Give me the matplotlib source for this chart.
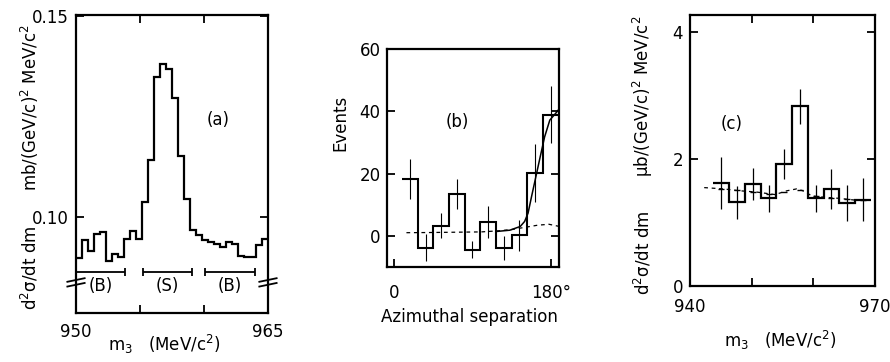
import matplotlib.pyplot as plt
import numpy as np

# ---- panel (a): d2sigma/dt dm vs m3, 32 bins 950-965 MeV
a_edges = np.linspace(950, 965, 33)
a_vals = [0.0898, 0.0942, 0.0915, 0.0958, 0.0962, 0.0892, 0.0909, 0.0901,
          0.0945, 0.0966, 0.0945, 0.1038, 0.1142, 0.1348, 0.1381, 0.1368,
          0.1295, 0.1152, 0.1046, 0.0969, 0.0956, 0.0944, 0.0938, 0.0933,
          0.0927, 0.0938, 0.0933, 0.0904, 0.0900, 0.0902, 0.0931, 0.0945]
band_lo = [950.0, 955.2, 960.1]
band_hi = [953.8, 959.1, 964.0]
band_names = ['(B)', '(S)', '(B)']

# ---- panel (b): events vs azimuthal separation, 18 deg bins
b_centers = [18, 36, 54, 72, 90, 108, 126, 144, 162, 180]
b_vals = [18.2, -3.7, 3.4, 13.5, -4.3, 4.5, -3.9, 0.2, 20.2, 39.0]
b_err = [6.4, 4.3, 4.0, 4.7, 2.8, 5.0, 3.9, 5.1, 9.2, 9.0]
b_bg_x = [14, 40, 70, 100, 120, 135, 150, 165, 178, 190]
b_bg_y = [1.1, 1.15, 1.25, 1.35, 1.7, 2.1, 2.8, 3.5, 3.8, 3.1]
b_fit_x = [118, 133, 145, 150, 154, 158, 163, 168, 173, 179, 187, 190]
b_fit_y = [1.5, 1.9, 3.1, 4.7, 7.4, 12.7, 19.1, 25.5, 31.8, 37.2, 39.8, 40.9]

# ---- panel (c): mub/(GeV/c)^2 MeV/c^2 vs m3, 10 bins
c_edges = np.linspace(943.8, 969.3, 11)
c_vals = [1.62, 1.32, 1.61, 1.38, 1.92, 2.83, 1.38, 1.53, 1.31, 1.36]
c_err = [0.41, 0.26, 0.25, 0.21, 0.24, 0.28, 0.21, 0.31, 0.28, 0.34]
c_bg_x = [942.3, 945.4, 948.1, 950.8, 953.8, 955.7, 957.3, 958.6, 959.7,
          961.6, 964.3, 967.0, 969.2]
c_bg_y = [1.55, 1.53, 1.50, 1.48, 1.44, 1.50, 1.53, 1.49, 1.42,
          1.40, 1.38, 1.35, 1.35]

plt.rcParams['font.family'] = 'DejaVu Sans'
plt.rcParams['mathtext.default'] = 'regular'
fs = 12
lw_ax = 1.6

fig = plt.figure(figsize=(8.9, 3.62), dpi=100)
fig.patch.set_facecolor('white')

ax_a = fig.add_axes([0.0854, 0.1354, 0.2157, 0.8232])
ax_b = fig.add_axes([0.4352, 0.2616, 0.1933, 0.6030])
ax_c = fig.add_axes([0.7753, 0.2100, 0.2079, 0.7486])

for ax in (ax_a, ax_b, ax_c):
    for s in ax.spines.values():
        s.set_linewidth(lw_ax)
    ax.tick_params(direction='in', length=6, width=1.3, labelsize=fs,
                   top=True, right=True)

# ---------------- (a)
ax_a.stairs(a_vals, a_edges, baseline=None, color='black', lw=1.6)
ax_a.set_xlim(950, 965)
ax_a.set_ylim(0.0762, 0.1502)
ax_a.set_xticks([950, 955, 960, 965])
ax_a.set_xticklabels(['950', '', '', '965'])
ax_a.set_yticks([0.10, 0.15])
ax_a.set_yticklabels(['0.10', '0.15'])
ax_a.tick_params(axis='x', pad=7)
ax_a.tick_params(axis='y', pad=5)

band_y = 0.0865
mid = [(lo + hi) / 2 for lo, hi in zip(band_lo, band_hi)]
half = [(hi - lo) / 2 for lo, hi in zip(band_lo, band_hi)]
ax_a.errorbar(mid, [band_y] * 3, xerr=half, fmt='none', ecolor='black',
              elinewidth=1.3, capsize=3, capthick=1.3, clip_on=False)
for m, name in zip(mid, band_names):
    ax_a.text(m, 0.0829, name, ha='center', va='center', fontsize=fs)

# axis break marks
yb = (0.0838 - 0.0762) / (0.1502 - 0.0762)
for xb in (0.0, 1.0):
    for dy in (-0.008, 0.008):
        ax_a.plot([xb - 0.045, xb + 0.045], [yb + dy - 0.006, yb + dy + 0.006],
                  transform=ax_a.transAxes, color='black', lw=1.3,
                  clip_on=False)

ax_a.text(961.1, 0.1242, '(a)', ha='center', va='center', fontsize=fs)
ax_a.text(-0.24, 0.151, r'$d^2\sigma$/dt dm', transform=ax_a.transAxes,
          rotation=90, ha='center', va='center', fontsize=fs)
ax_a.text(-0.24, 0.69, r'mb/(GeV/c)$^2$ MeV/c$^2$', transform=ax_a.transAxes,
          rotation=90, ha='center', va='center', fontsize=fs)
ax_a.text(0.46, -0.107, r'm$_3$   (MeV/c$^2$)', transform=ax_a.transAxes,
          ha='center', va='center', fontsize=fs)

# ---------------- (b)
b_edges = [c - 9 for c in b_centers] + [b_centers[-1] + 9]
ax_b.stairs(b_vals, b_edges, baseline=None, color='black', lw=1.5)
ax_b.errorbar(b_centers, b_vals, yerr=b_err, fmt='none', ecolor='black',
              elinewidth=0.8)
ax_b.plot(b_bg_x, b_bg_y, color='black', lw=0.9, ls=(0, (3, 3)))
ax_b.plot(b_fit_x, b_fit_y, color='black', lw=1.1)
ax_b.set_xlim(-8, 190)
ax_b.set_ylim(-10, 60)
ax_b.set_xticks([0, 180])
ax_b.set_xticklabels(['0', '180°'])
ax_b.set_yticks([0, 20, 40, 60])
ax_b.tick_params(axis='x', pad=12, top=False)
ax_b.tick_params(axis='y', pad=5)
ax_b.text(72, 36.6, '(b)', ha='center', va='center', fontsize=fs)
ax_b.text(-0.275, 0.661, 'Events', transform=ax_b.transAxes, rotation=90,
          ha='center', va='center', fontsize=fs)
ax_b.text(0.48, -0.228, 'Azimuthal separation', transform=ax_b.transAxes,
          ha='center', va='center', fontsize=fs)

# ---------------- (c)
c_centers = (c_edges[:-1] + c_edges[1:]) / 2
ax_c.stairs(c_vals, c_edges, baseline=None, color='black', lw=1.6)
ax_c.errorbar(c_centers, c_vals, yerr=c_err, fmt='none', ecolor='black',
              elinewidth=0.9)
ax_c.plot(c_bg_x, c_bg_y, color='black', lw=0.9, ls=(0, (3, 3)))
ax_c.plot(c_centers, np.interp(c_centers, c_bg_x, c_bg_y), ls='none',
          marker='_', ms=5, mew=1.0, color='black')
ax_c.set_xlim(940, 970)
ax_c.set_ylim(0, 4.27)
ax_c.set_xticks([940, 950, 960, 970])
ax_c.set_xticklabels(['940', '', '', '970'])
ax_c.set_yticks([0, 2, 4])
ax_c.tick_params(axis='x', pad=9)
ax_c.tick_params(axis='y', pad=5)
ax_c.text(946.8, 2.56, '(c)', ha='center', va='center', fontsize=fs)
ax_c.text(-0.254, 0.122, r'$d^2\sigma$/dt dm', transform=ax_c.transAxes,
          rotation=90, ha='center', va='center', fontsize=fs)
ax_c.text(-0.254, 0.70, r'μb/(GeV/c)$^2$ MeV/c$^2$', transform=ax_c.transAxes,
          rotation=90, ha='center', va='center', fontsize=fs)
ax_c.text(0.486, -0.2, r'm$_3$   (MeV/c$^2$)', transform=ax_c.transAxes,
          ha='center', va='center', fontsize=fs)

fig.savefig('out.png', dpi=100)
